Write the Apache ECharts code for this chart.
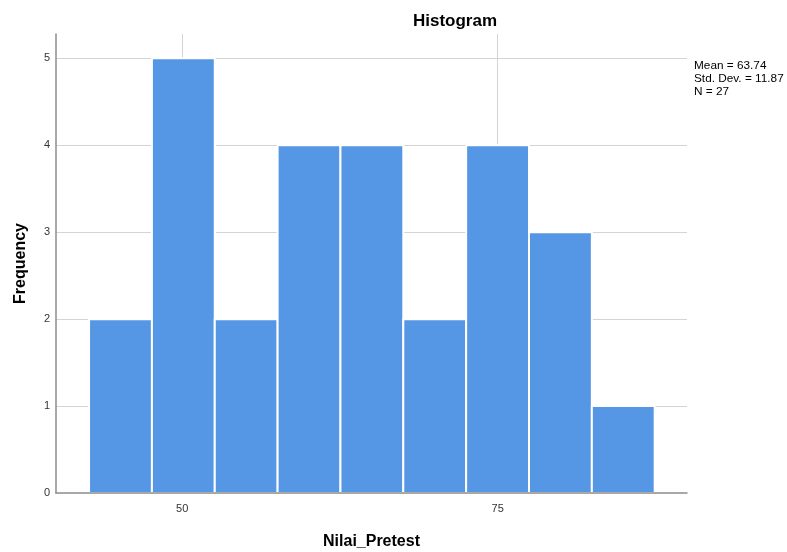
<!DOCTYPE html>
<html>
<head>
<meta charset="utf-8">
<script src="https://cdn.jsdelivr.net/npm/echarts@6/dist/echarts.min.js"></script>
<style>
html,body{margin:0;padding:0;background:#fff;}
#chart{width:787px;height:552px;}
</style>
</head>
<body>
<div id="chart"></div>
<script>
// Data
const binStarts = [42.62, 47.60, 52.58, 57.56, 62.54, 67.52, 72.50, 77.48, 82.46];
const binEnds   = [47.60, 52.58, 57.56, 62.54, 67.52, 72.50, 77.48, 82.46, 87.44];
const frequencies = [2, 5, 2, 4, 4, 2, 4, 3, 1];
const xTickValues = [50, 75];
const yTickValues = [0, 1, 2, 3, 4, 5];
const yGridValues = [1, 2, 3, 4, 5];
const statsLines = ['Mean = 63.74', 'Std. Dev. = 11.87', 'N = 27'];

const FONT = '"Liberation Sans", Arial, sans-serif';
const chart = echarts.init(document.getElementById('chart'), null, {renderer: 'canvas'});

const barData = binStarts.map((s, i) => [s, binEnds[i], frequencies[i]]);
const gridLineData = xTickValues.map(v => ({xAxis: v})).concat(yGridValues.map(v => ({yAxis: v})));

chart.setOption({
  animation: false,
  backgroundColor: '#ffffff',
  graphic: [
    {
      type: 'text', x: 455, y: 21,
      style: {text: 'Histogram', font: 'bold 17px ' + FONT, fill: '#000', align: 'center', verticalAlign: 'middle'}
    }
  ].concat(statsLines.map((t, i) => ({
    type: 'text', x: 694, y: 66 + i * 13,
    style: {text: t, font: '11.8px ' + FONT, fill: '#000', align: 'left', verticalAlign: 'middle'}
  }))),
  grid: {left: 56, right: 100, top: 34, bottom: 59, containLabel: false, outerBoundsMode: 'none'},
  xAxis: {
    type: 'value', min: 40, max: 90, z: 5,
    name: 'Nilai_Pretest', nameLocation: 'middle', nameGap: 41,
    nameTextStyle: {fontFamily: FONT, fontSize: 16, fontWeight: 'bold', color: '#000'},
    axisLine: {show: true, lineStyle: {color: '#8c8c8c', width: 1.5}},
    axisTick: {show: false},
    axisLabel: {
      customValues: xTickValues,
      fontFamily: FONT, fontSize: 11, color: '#333', margin: 10
    },
    splitLine: {show: false}
  },
  yAxis: {
    type: 'value', min: 0, max: 5.28, interval: 1, z: 5,
    name: 'Frequency', nameLocation: 'middle', nameGap: 27, nameRotate: 90,
    nameTextStyle: {fontFamily: FONT, fontSize: 16, fontWeight: 'bold', color: '#000'},
    axisLine: {show: true, lineStyle: {color: '#8c8c8c', width: 1.5}},
    axisTick: {show: false},
    axisLabel: {
      customValues: yTickValues,
      fontFamily: FONT, fontSize: 11, color: '#333', margin: 6
    },
    splitLine: {show: false}
  },
  series: [
    {
      type: 'line', data: [], z: 1, silent: true,
      markLine: {
        silent: true, symbol: 'none', label: {show: false}, z: 1,
        lineStyle: {color: '#d4d4d4', width: 1, type: 'solid'},
        data: gridLineData
      }
    },
    {
      type: 'custom', z: 3,
      data: barData,
      encode: {x: [0, 1], y: 2},
      renderItem: function (params, api) {
        const p0 = api.coord([api.value(0), api.value(2)]);
        const p1 = api.coord([api.value(1), 0]);
        return {
          type: 'rect',
          shape: {x: p0[0], y: p0[1], width: p1[0] - p0[0], height: p1[1] - p0[1]},
          style: {fill: '#5596e5', stroke: '#ffffff', lineWidth: 2}
        };
      }
    }
  ]
});
</script>
</body>
</html>
